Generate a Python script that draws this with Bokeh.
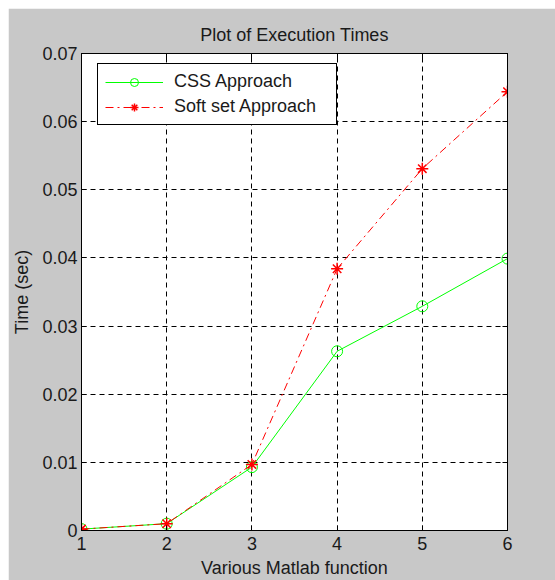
from bokeh.plotting import figure
from bokeh.models import FixedTicker, LinearAxis, Range1d, Legend, LegendItem
from bokeh.embed import file_html
from bokeh.resources import INLINE

functions = [1, 2, 3, 4, 5, 6]
css_times = [0.0002, 0.0010, 0.0093, 0.0263, 0.0329, 0.0399]
soft_times = [0.0002, 0.0010, 0.0097, 0.0384, 0.0531, 0.0644]
x_ticks = [1, 2, 3, 4, 5, 6]
y_ticks = [0, 0.01, 0.02, 0.03, 0.04, 0.05, 0.06, 0.07]
y_tick_labels = ["0", "0.01", "0.02", "0.03", "0.04", "0.05", "0.06", "0.07"]
title_text = "Plot of Execution Times"

FONT = "Liberation Sans"
FS = "18px"
BG = "#c8c8c8"

p = figure(width=547, height=572, x_range=Range1d(1, 6), y_range=Range1d(0, 0.07),
           output_backend="svg", toolbar_location=None,
           min_border_left=73, min_border_right=48, min_border_top=45, min_border_bottom=50,
           background_fill_color="white", border_fill_color=BG,
           title=title_text, margin=(8, 0, 0, 8))

p.title.align = "center"
p.title.text_font = FONT
p.title.text_font_size = FS
p.title.text_font_style = "normal"
p.title.text_color = "#1a1a1a"
p.title.standoff = 18

p.outline_line_color = "black"
p.outline_line_width = 1
p.outline_line_alpha = 1

# main axes
xa = p.xaxis[0]
ya = p.yaxis[0]
xa.ticker = FixedTicker(ticks=x_ticks)
ya.ticker = FixedTicker(ticks=y_ticks)
ya.major_label_overrides = {t: l for t, l in zip(y_ticks, y_tick_labels)}
xa.major_label_overrides = {t: str(t) for t in x_ticks}
xa.axis_label = "Various Matlab function"
ya.axis_label = "Time (sec)"
for ax in (xa, ya):
    ax.major_tick_in = 5
    ax.major_tick_out = 0
    ax.minor_tick_line_color = None
    ax.axis_line_color = "black"
    ax.major_tick_line_color = "black"
    ax.major_label_text_font = FONT
    ax.major_label_text_font_size = FS
    ax.major_label_text_color = "#1a1a1a"
    ax.axis_label_text_font = FONT
    ax.axis_label_text_font_size = FS
    ax.axis_label_text_font_style = "normal"
    ax.axis_label_text_color = "#1a1a1a"
xa.major_label_standoff = 6
xa.axis_label_standoff = 5
ya.major_label_standoff = 4
ya.axis_label_standoff = 7

# top and right axes (ticks only)
top = LinearAxis(ticker=FixedTicker(ticks=x_ticks))
right = LinearAxis(ticker=FixedTicker(ticks=y_ticks))
top.major_label_overrides = {t: "" for t in x_ticks}
right.major_label_overrides = {t: "" for t in y_ticks}
for ax in (top, right):
    ax.major_tick_in = 5
    ax.major_tick_out = 0
    ax.minor_tick_line_color = None
    ax.axis_line_color = "black"
    ax.major_tick_line_color = "black"
    ax.major_label_text_font_size = "1px"
    ax.major_label_standoff = 0
    ax.axis_label_standoff = 0
p.add_layout(top, "above")
p.add_layout(right, "right")

# grid
for g in (p.xgrid[0], p.ygrid[0]):
    g.grid_line_color = "black"
    g.grid_line_dash = "5 4"
    g.grid_line_width = 1
    g.grid_line_alpha = 1
p.xgrid[0].ticker = FixedTicker(ticks=x_ticks)
p.ygrid[0].ticker = FixedTicker(ticks=y_ticks)

GREEN = "#00ff00"
RED = "#ff0000"

l1 = p.line(functions, css_times, line_color=GREEN, line_width=1)
m1 = p.scatter(functions, css_times, marker="circle", size=11, fill_color=None,
               line_color=GREEN, line_width=1)
l2 = p.line(functions, soft_times, line_color=RED, line_width=1, line_dash="8 4 2 4")
m2 = p.scatter(functions, soft_times, marker="asterisk", size=12,
               line_color=RED, line_width=1.5)

legend = Legend(items=[LegendItem(label="CSS Approach", renderers=[l1, m1]),
                       LegendItem(label="Soft set Approach", renderers=[l2, m2])],
                location=(16, 405))
legend.padding = 7
legend.spacing = 4
legend.glyph_width = 58
legend.glyph_height = 20
legend.label_height = 20
legend.label_standoff = 11
legend.label_width = 155
legend.label_text_font = FONT
legend.label_text_font_size = FS
legend.label_text_color = "#1a1a1a"
legend.border_line_color = "black"
legend.border_line_width = 1
legend.border_line_alpha = 1
legend.background_fill_color = "white"
legend.background_fill_alpha = 1
legend.margin = 0
p.add_layout(legend, "center")

open("out.html", "w").write(file_html(p, INLINE))
